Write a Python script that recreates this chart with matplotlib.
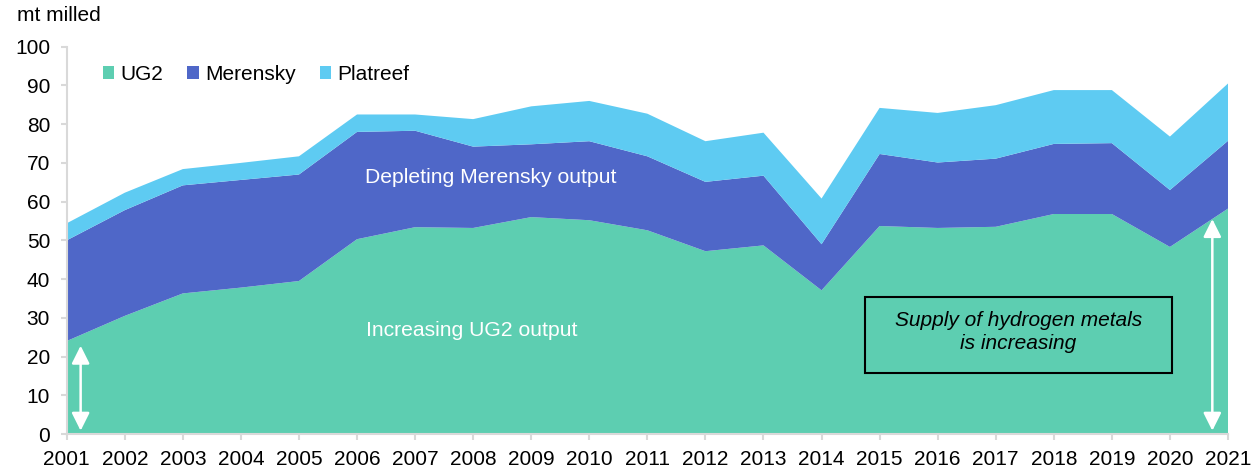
import matplotlib
matplotlib.use("Agg")
import matplotlib.pyplot as plt
from matplotlib.patches import Rectangle

plt.rcParams['font.family'] = ['Liberation Sans', 'DejaVu Sans']

years = list(range(2001, 2022))
ug2 = [24.0, 30.5, 36.3, 37.8, 39.5, 50.3, 53.4, 53.2, 56.0, 55.2, 52.6,
       47.2, 48.7, 37.1, 53.7, 53.2, 53.5, 56.8, 56.8, 48.3, 58.2]
merensky_top = [50.0, 57.8, 64.2, 65.6, 67.0, 78.0, 78.3, 74.2, 74.8, 75.6, 71.7,
                65.1, 66.7, 49.0, 72.3, 70.1, 71.1, 74.9, 75.1, 63.0, 75.7]
total_top = [54.4, 62.3, 68.4, 70.0, 71.7, 82.5, 82.5, 81.3, 84.6, 86.0, 82.7,
             75.6, 77.8, 60.8, 84.2, 82.9, 84.9, 88.8, 88.8, 76.8, 90.5]
merensky = [m - u for m, u in zip(merensky_top, ug2)]
platreef = [t - m for t, m in zip(total_top, merensky_top)]

series_names = ['UG2', 'Merensky', 'Platreef']
colors = ['#5DCEB1', '#4F67C8', '#5ECBF2']
yticks = list(range(0, 101, 10))

fig = plt.figure(figsize=(12.6, 4.73), dpi=100)
ax = fig.add_axes([66.7/1260, 1-434/473, (1228-66.7)/1260, (434-46.7)/473])

ax.stackplot(years, ug2, merensky, platreef, colors=colors, labels=series_names,
             linewidth=0)

ax.set_xlim(2001, 2021)
ax.set_ylim(0, 100)
ax.set_xticks(years)
ax.set_xticklabels([str(y) for y in years])
ax.set_yticks(yticks)

for s in ['top', 'right']:
    ax.spines[s].set_visible(False)
for s in ['left', 'bottom']:
    ax.spines[s].set_color('#d9d9d9')
    ax.spines[s].set_linewidth(1.5)
ax.tick_params(axis='both', colors='#d9d9d9', labelcolor='black', labelsize=15,
               length=4.5, width=1.5)
ax.tick_params(axis='x', pad=7)
ax.tick_params(axis='y', pad=7.5)

leg = ax.legend(loc='center left', bbox_to_anchor=(0.031, 0.928), ncol=3,
                frameon=False, fontsize=15, handlelength=0.55, handleheight=0.55,
                handletextpad=0.3, columnspacing=1.15, borderpad=0, borderaxespad=0)

ax.text(2008.3, 66.1, 'Depleting Merensky output', color='white', fontsize=15.2,
        ha='center', va='center')
ax.text(2007.97, 26.6, 'Increasing UG2 output', color='white', fontsize=15.2,
        ha='center', va='center')

ax.add_patch(Rectangle((2014.75, 15.7), 2020.03 - 2014.75, 35.4 - 15.7,
                       fill=False, edgecolor='black', linewidth=1.5, zorder=5))
ax.text(2017.39, 26.3, 'Supply of hydrogen metals\nis increasing', color='black',
        fontsize=15, style='italic', ha='center', va='center', linespacing=1.25,
        zorder=6)

arrow_kw = dict(arrowstyle='<|-|>,head_length=0.54,head_width=0.27', color='white',
                lw=1.8, mutation_scale=20, shrinkA=0, shrinkB=0)
ax.annotate('', xy=(2001.24, 22.8), xytext=(2001.24, 0.85), arrowprops=arrow_kw)
ax.annotate('', xy=(2020.73, 55.5), xytext=(2020.73, 0.85), arrowprops=arrow_kw)

fig.text(17/1260, 1-15.7/473, 'mt milled', fontsize=15, ha='left', va='center')

fig.savefig('out.png', dpi=100)
